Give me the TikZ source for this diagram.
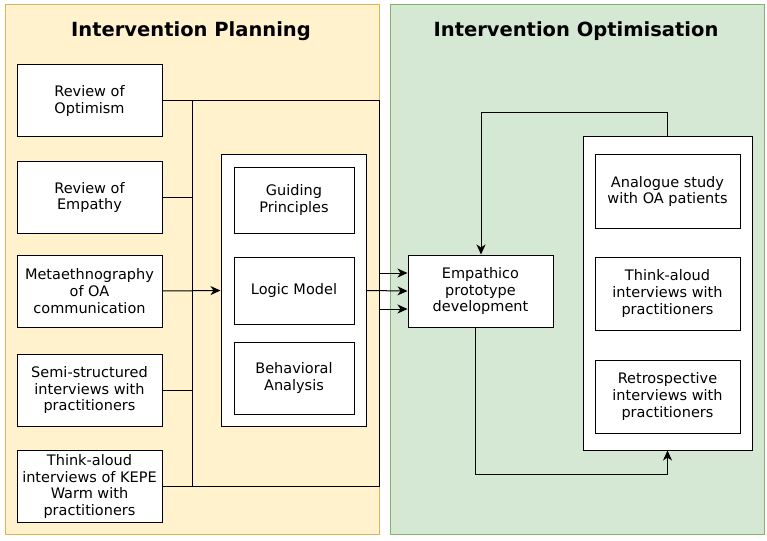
\documentclass[tikz,border=0pt]{standalone}
\usepackage{fontspec}
\setmainfont{DejaVu Sans}
\usetikzlibrary{arrows.meta}
\definecolor{planfill}{HTML}{FFF2CC}
\definecolor{planline}{HTML}{D6B656}
\definecolor{optfill}{HTML}{D5E8D4}
\definecolor{optline}{HTML}{82B366}

\begin{document}
\begin{tikzpicture}
        [
            x=1pt, y=-1pt,
            box/.style = {draw, shape=rectangle, fill=white, minimum width=145pt, minimum height=72pt, align=center, line width=1pt, inner sep=2pt, font=\fontsize{14.5}{16.7}\selectfont},
            small/.style = {box, minimum width=120pt},
            frame/.style = {draw, shape=rectangle, fill=white, line width=1pt},
            title/.style = {font=\fontsize{19.5}{22}\selectfont\bfseries},
            wire/.style = {line width=1pt},
            tip/.style = {-{Stealth[length=10pt, width=9pt, inset=3pt]}},
        ]

        \useasboundingbox (0,0) rectangle (767,540);
        \draw[fill=planfill, draw=planline, line width=1pt] (5,5) rectangle (379,534);
        \draw[fill=optfill, draw=optline, line width=1pt] (390,5) rectangle (764,534);

        \node[title] (tl) at (191,31) {Intervention Planning};
        \node[title] (tr) at (576,31) {Intervention Optimisation};

        \node[box] (p1) at (89.5,101)   {Review of\\Optimism};
        \node[box] (p2) at (89.5,197.5) {Review of\\Empathy};
        \node[box] (p3) at (89.5,291)   {Metaethnography\\of OA\\communication};
        \node[box] (p4) at (89.5,390)   {Semi-structured\\interviews with\\practitioners};
        \node[box] (p5) at (89.5,486.5) {Think-aloud\\interviews of KEPE\\Warm with\\practitioners};

        \node[frame, minimum width=145pt, minimum height=271pt] (inner) at (293.5,290.5) {};
        \node[small, minimum height=66pt] (g1) at (294,200)   {Guiding\\Principles};
        \node[small, minimum height=67pt] (g2) at (294,290.5) {Logic Model};
        \node[small, minimum height=72pt] (g3) at (294,378)   {Behavioral\\Analysis};

        \node[box] (emp) at (480.5,291) {Empathico\\prototype\\development};

        \node[frame, minimum width=169pt, minimum height=313pt] (outer) at (667.5,293.5) {};
        \node[box, minimum height=73pt] (o1) at (667.5,191.5) {Analogue study\\with OA patients};
        \node[box, minimum height=73pt] (o2) at (667.5,293.5) {Think-aloud\\interviews with\\practitioners};
        \node[box, minimum height=73pt] (o3) at (667.5,396.5) {Retrospective\\interviews with\\practitioners};

        \coordinate (bt) at (192,101);
        \coordinate (bb) at (192,486.5);
        \coordinate (rt) at (379,101);
        \coordinate (rb) at (379,486.5);
        \coordinate (ra) at (379,273);
        \coordinate (rc) at (379,309);
        \coordinate (lt) at (481,113);
        \coordinate (lb) at (475,474);

        \draw [wire] (bt) -- (bb);
        \draw [wire] (p2.east) -- (p2.east -| bt);
        \draw [wire] (p4.east) -- (p4.east -| bt);
        \draw [wire, tip] (p3.east) -- (inner.west);
        \draw [wire] (p1.east) -- (rt) -- (rb) -- (p5.east);

        \draw [wire, tip] (ra) -- (ra -| emp.west);
        \draw [wire, tip] (inner.east) -- (emp.west);
        \draw [wire, tip] (rc) -- (rc -| emp.west);

        \draw [wire, tip] (outer.north) |- (lt) -- (lt |- emp.north);
        \draw [wire, tip] (lb |- emp.south) -- (lb) -| (outer.south);
    \end{tikzpicture}
\end{document}
